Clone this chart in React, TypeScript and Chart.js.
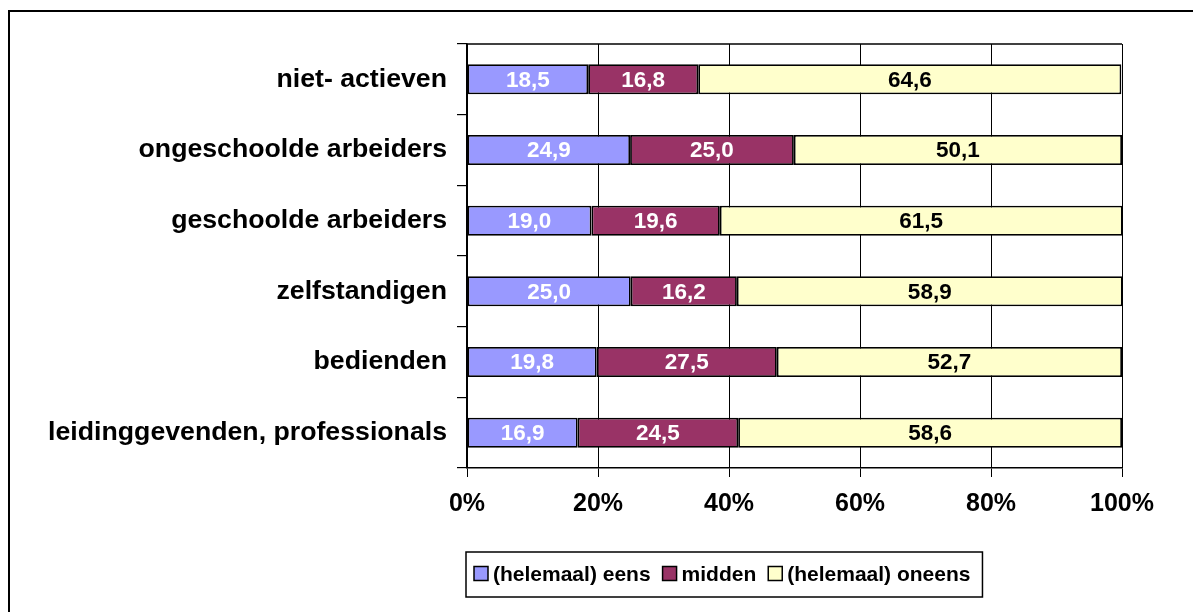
import React, { useEffect, useRef } from "react";
import { Chart, registerables } from "chart.js";

Chart.register(...registerables);

const categories = [
  "niet- actieven",
  "ongeschoolde arbeiders",
  "geschoolde arbeiders",
  "zelfstandigen",
  "bedienden",
  "leidinggevenden, professionals",
];
const seriesNames = ["(helemaal) eens", "midden", "(helemaal) oneens"];
const eens = [18.5, 24.9, 19.0, 25.0, 19.8, 16.9];
const midden = [16.8, 25.0, 19.6, 16.2, 27.5, 24.5];
const oneens = [64.6, 50.1, 61.5, 58.9, 52.7, 58.6];
const xTicks = [0, 20, 40, 60, 80, 100];

const colors = ["#9999FF", "#993366", "#FFFFCC"];
const labelColors = ["#FFFFFF", "#FFFFFF", "#000000"];
const FONT = '"Liberation Sans", Arial, sans-serif';

const framePlugin = {
  id: "frame",
  beforeDraw(chart: any) {
    const ctx = chart.ctx;
    ctx.save();
    ctx.fillStyle = "#FFFFFF";
    ctx.fillRect(0, 0, chart.width, chart.height);
    ctx.strokeStyle = "#000000";
    ctx.lineWidth = 2;
    ctx.strokeRect(9, 11, chart.width + 50, chart.height + 50);
    ctx.restore();
  },
};

const areaBorderPlugin = {
  id: "areaBorder",
  afterDraw(chart: any) {
    const { ctx, chartArea } = chart;
    ctx.save();
    ctx.strokeStyle = "#000000";
    ctx.lineWidth = 1.5;
    ctx.beginPath();
    ctx.moveTo(chartArea.left, chartArea.top);
    ctx.lineTo(chartArea.right, chartArea.top);
    ctx.stroke();
    ctx.restore();
  },
};

const valueLabelPlugin = {
  id: "valueLabels",
  afterDatasetsDraw(chart: any) {
    const ctx = chart.ctx;
    ctx.save();
    ctx.font = `bold 22.5px ${FONT}`;
    ctx.textAlign = "center";
    ctx.textBaseline = "middle";
    chart.data.datasets.forEach((ds: any, di: number) => {
      const meta = chart.getDatasetMeta(di);
      meta.data.forEach((el: any, i: number) => {
        const p = el.getProps(["x", "y", "base"], true);
        const v = ds.data[i] as number;
        ctx.fillStyle = labelColors[di];
        ctx.fillText(v.toFixed(1).replace(".", ","), (p.x + p.base) / 2, p.y + 1);
      });
    });
    ctx.restore();
  },
};

const legendPlugin = {
  id: "boxLegend",
  afterDraw(chart: any) {
    const { ctx, chartArea } = chart;
    const top = chartArea.bottom + 84;
    const h = 45;
    const left = chartArea.left - 1;
    ctx.save();
    ctx.font = `bold 21px ${FONT}`;
    ctx.textBaseline = "middle";
    ctx.textAlign = "left";
    let x = left + 8;
    const cy = top + h / 2;
    chart.data.datasets.forEach((ds: any, i: number) => {
      ctx.fillStyle = ds.backgroundColor;
      ctx.fillRect(x, cy - 8, 14, 14);
      ctx.strokeStyle = "#000000";
      ctx.lineWidth = 1.5;
      ctx.strokeRect(x, cy - 8, 14, 14);
      x += 19;
      ctx.fillStyle = "#000000";
      ctx.fillText(ds.label, x, cy + 1);
      x += ctx.measureText(ds.label).width + 12;
    });
    ctx.strokeStyle = "#000000";
    ctx.lineWidth = 1.5;
    ctx.strokeRect(left, top, x - left, h);
    ctx.restore();
  },
};

export default function App() {
  const ref = useRef<HTMLCanvasElement | null>(null);
  useEffect(() => {
    if (!ref.current) return;
    const chart = new Chart(ref.current, {
      type: "bar",
      data: {
        labels: categories,
        datasets: [eens, midden, oneens].map((d, i) => ({
          label: seriesNames[i],
          data: d,
          backgroundColor: colors[i],
          borderColor: "#000000",
          borderWidth: 1.8,
          borderSkipped: false,
          barPercentage: 0.425,
          categoryPercentage: 1,
        })),
      },
      options: {
        indexAxis: "y",
        animation: false,
        responsive: false,
        layout: { padding: { left: 0, top: 44, right: 71, bottom: 84 } },
        plugins: {
          legend: { display: false },
          tooltip: { enabled: false },
        },
        scales: {
          x: {
            stacked: true,
            min: 0,
            max: 100,
            afterBuildTicks: (scale: any) => {
              scale.ticks = xTicks.map((v) => ({ value: v }));
            },
            afterFit: (scale: any) => {
              scale.height = 60;
            },
            ticks: {
              callback: (v: any) => v + "%",
              color: "#000000",
              font: { family: FONT, size: 25, weight: "bold" },
              padding: 12,
              maxRotation: 0,
            },
            grid: { color: "#000000", lineWidth: 1, tickLength: 9 },
            border: { color: "#000000", width: 1.5 },
          },
          y: {
            stacked: true,
            offset: true,
            afterFit: (scale: any) => {
              scale.width = 467;
            },
            ticks: {
              color: "#000000",
              font: { family: FONT, size: 26.7, weight: "bold" },
              padding: 10,
            },
            grid: {
              offset: true,
              drawOnChartArea: false,
              tickLength: 10,
              color: "#000000",
              lineWidth: 1.2,
            },
            border: { color: "#000000", width: 1.5 },
          },
        },
      } as any,
      plugins: [framePlugin, areaBorderPlugin, valueLabelPlugin, legendPlugin],
    });
    return () => chart.destroy();
  }, []);
  return (
    <div style={{ position: "fixed", left: 0, top: 0, width: 1193, height: 612 }}>
      <canvas ref={ref} width={1193} height={612} style={{ display: "block" }} />
    </div>
  );
}
